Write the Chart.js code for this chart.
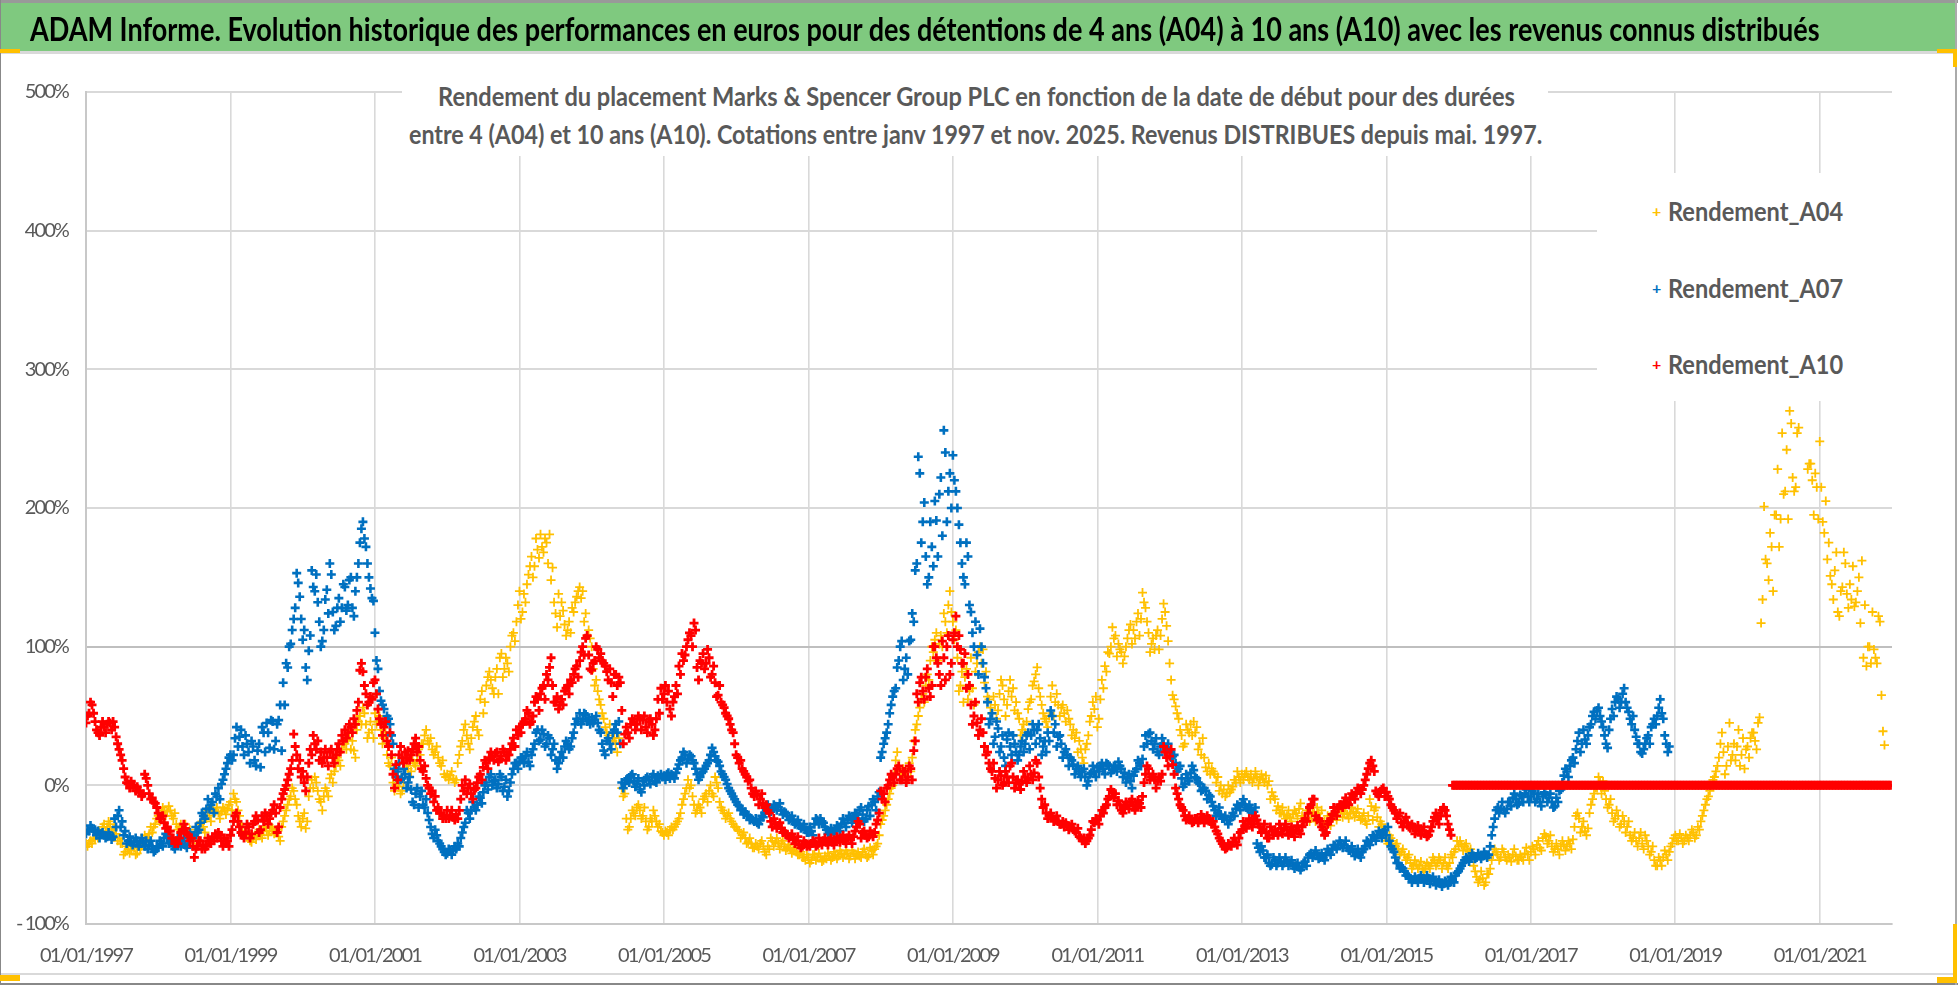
<!DOCTYPE html>
<html lang="fr">
<head>
<meta charset="utf-8">
<title>ADAM Informe</title>
<script src="https://cdn.jsdelivr.net/npm/chart.js@4/dist/chart.umd.min.js"></script>
<style>
html, body { margin: 0; padding: 0; background: #fff; overflow: hidden; }
#page { position: relative; width: 1958px; height: 985px; overflow: hidden; }
canvas { position: absolute; left: 0; top: 0; }
.box { position: absolute; }
.txt { position: absolute; white-space: nowrap; transform-origin: 0 50%; font-family: Lato, sans-serif; font-weight: 700; line-height: 1; }
.grey { color: #595959; }
</style>
</head>
<body>
<div id="page">
  <canvas id="graphique" width="1958" height="985"></canvas>

  <div class="box" style="left:0;top:0;width:1958px;height:3px;background:#999"></div>
  <div class="box" style="left:0;top:3px;width:1956px;height:48px;background:#7FC97F"></div>
  <div class="box" style="left:0;top:51px;width:1956px;height:3px;background:#d9d9d9"></div>
  <div class="box" style="left:0;top:973px;width:1956px;height:2px;background:#d9d9d9"></div>
  <div class="box" style="left:0;top:983px;width:1958px;height:2px;background:#888"></div>
  <div class="box" style="left:0;top:0;width:1px;height:985px;background:#888"></div>
  <div class="box" style="left:1955px;top:0;width:2px;height:985px;background:#aaa"></div>

  <div class="box" style="left:0;top:49px;width:20px;height:4px;background:#FFC000"></div>
  <div class="box" style="left:0;top:975px;width:20px;height:6px;background:#FFC000"></div>
  <div class="box" style="left:1937px;top:49px;width:19px;height:4px;background:#FFC000"></div>
  <div class="box" style="left:1953px;top:49px;width:4px;height:18px;background:#FFC000"></div>
  <div class="box" style="left:1937px;top:977px;width:20px;height:6px;background:#FFC000"></div>
  <div class="box" style="left:1953px;top:924px;width:4px;height:59px;background:#FFC000"></div>

  <div class="box" style="left:402px;top:80px;width:1146px;height:76px;background:#fff"></div>
  <div class="box" style="left:1597px;top:173px;width:296px;height:228px;background:#fff"></div>

  <span class="txt fit" data-w="1790" style="left:30px;top:13px;font-size:32px;color:#000">ADAM Informe. Evolution historique des performances en euros pour des détentions de 4 ans (A04) à 10 ans (A10) avec les revenus connus distribués</span>
  <span class="txt grey fit" data-w="1077" style="left:438px;top:83px;font-size:26px">Rendement du placement Marks &amp; Spencer Group PLC en fonction de la date de début pour des durées</span>
  <span class="txt grey fit" data-w="1133" style="left:409px;top:121px;font-size:26px">entre 4 (A04) et 10 ans (A10).  Cotations entre janv 1997 et nov. 2025. Revenus DISTRIBUES depuis mai. 1997.</span>

  <span class="txt" style="left:1652px;top:203px;font-size:16px;color:#FFC000">+</span>
  <span class="txt grey fit" data-w="175" style="left:1668px;top:198px;font-size:26px">Rendement_A04</span>
  <span class="txt" style="left:1652px;top:280px;font-size:16px;color:#0070C0">+</span>
  <span class="txt grey fit" data-w="175" style="left:1668px;top:275px;font-size:26px">Rendement_A07</span>
  <span class="txt" style="left:1652px;top:356px;font-size:16px;color:#FF0000">+</span>
  <span class="txt grey fit" data-w="175" style="left:1668px;top:351px;font-size:26px">Rendement_A10</span>
</div>

<script>
var anneeDebut = 1997;
var pasParAn = 24;
var ticksY = [-100, 0, 100, 200, 300, 400, 500];
var ticksX = [1997, 1999, 2001, 2003, 2005, 2007, 2009, 2011, 2013, 2015, 2017, 2019, 2021];

// une ligne par annee, un point tous les 1/24 d'an
var rendementA04 = [
  -42,-42,-42,-39,-38,-35,-28,-30,-28,-32,-35,-38,-42,-48,-46,-47,-45,-49,-46,-41,-39,-35,-34,-28,
  -22,-20,-18,-19,-18,-24,-28,-30,-32,-28,-34,-36,-38,-34,-28,-30,-24,-22,-18,-19,-20,-19,-18,-17,
  -12,-6,-12,-22,-30,-33,-36,-41,-36,-35,-36,-33,-33,-33,-31,-34,-37,-30,-22,-14,-8,-4,-14,-26,
  -24,-31,-8,4,6,-4,-12,-8,-4,5,2,14,18,26,30,33,26,25,40,50,56,44,38,40,
  52,46,40,34,22,14,2,0,-1,-4,8,12,10,16,18,22,30,40,30,26,24,20,14,8,
  8,7,5,4,22,32,44,30,34,46,40,62,52,72,82,70,78,66,95,84,88,100,110,118,
  140,125,132,152,165,158,170,181,168,175,181,157,124,138,132,116,112,110,125,136,143,140,124,112,
  100,72,68,58,48,38,44,32,30,34,-2,-6,-32,-24,-20,-16,-18,-22,-26,-30,-26,-22,-30,-33,
  -36,-34,-32,-32,-28,-24,-14,-6,4,0,-14,-18,-16,-10,-6,-4,-6,6,-2,-16,-20,-22,-24,-28,
  -30,-33,-36,-38,-41,-42,-45,-44,-42,-44,-50,-46,-40,-41,-42,-42,-44,-45,-46,-47,-48,-50,-52,-54,
  -52,-54,-50,-52,-52,-54,-53,-51,-52,-50,-51,-49,-50,-49,-51,-49,-50,-51,-48,-50,-51,-47,-46,-42,
  -28,-22,-14,-6,0,18,14,8,10,4,10,32,44,56,66,72,76,100,105,90,108,124,110,140,
  118,112,68,82,78,62,92,58,88,100,98,82,62,52,58,54,76,62,58,76,70,60,48,40,
  38,55,62,75,85,64,52,46,50,72,60,58,56,52,54,44,40,38,32,20,26,36,50,55,
  42,62,70,82,95,114,108,102,96,93,106,116,112,118,108,139,128,110,102,98,112,108,131,115,
  88,65,57,48,36,30,40,44,46,42,30,34,13,16,12,8,6,0,-3,-6,-5,-1,2,6,
  8,8,6,8,5,6,4,5,7,3,-5,-10,-15,-20,-21,-22,-23,-21,-20,-17,-22,-23,-21,-24,
  -20,-16,-24,-28,-30,-26,-24,-22,-19,-18,-20,-21,-20,-19,-20,-22,-24,-26,-22,-15,-18,-23,-26,-32,
  -40,-36,-40,-44,-46,-48,-50,-52,-56,-58,-57,-58,-60,-60,-58,-56,-54,-56,-54,-56,-58,-56,-52,-46,
  -44,-43,-44,-46,-46,-58,-66,-68,-67,-70,-64,-54,-46,-50,-52,-48,-54,-52,-50,-51,-54,-52,-49,-50,
  -48,-46,-43,-45,-38,-37,-40,-44,-46,-46,-44,-43,-44,-42,-39,-22,-24,-30,-33,-31,-14,-6,-2,2,
  3,-10,-14,-20,-24,-22,-28,-26,-30,-36,-38,-40,-38,-42,-36,-44,-48,-54,-58,-54,-52,-50,-48,-42,
  -36,-40,-38,-40,-38,-36,-34,-36,-32,-22,-14,-8,0,6,14,30,24,14,45,22,18,40,22,12,
  28,34,38,26,49,134,163,148,172,195,228,192,210,242,270,222,215,258,null,null,228,232,195,215,
  248,190,205,175,145,155,125,140,168,138,145,158,132,150,162,130,100,88,98,88,118,39,null,null
];

// l'autre bord du nuage de points, decale d'un demi pas
var rendementA04Bord = [
  -44,-40,-38,-36,-34,-30,-33,-26,-34,-30,-40,-42,-50,-44,-49,-43,-50,-44,-44,-36,-38,-30,-30,-24,
  -26,-16,-22,-15,-22,-20,-32,-28,-34,-38,-32,-42,-30,-32,-26,-34,-18,-26,-20,-16,-24,-16,-21,-14,
  -18,-10,-18,-28,-36,-28,-40,-38,-39,-32,-38,-30,-36,-30,-35,-32,-40,-26,-18,-10,-2,-10,-22,-30,
  -20,-26,-2,-2,2,-10,-18,-2,-8,8,10,20,14,30,26,38,32,20,46,44,52,34,46,34,
  44,50,30,38,16,20,-4,6,-6,2,14,6,18,14,26,30,36,32,34,22,28,16,18,6,
  4,10,2,16,28,40,36,26,42,50,36,68,60,78,76,66,84,92,78,92,82,108,104,130,
  120,138,145,158,150,178,164,172,178,160,148,132,114,122,126,108,118,128,132,140,135,118,108,106,
  84,76,62,52,42,36,26,34,24,30,-8,-24,-30,-18,-22,-14,-24,-16,-32,-24,-18,-26,-28,-34,
  -33,-36,-30,-30,-26,-20,-10,-2,-2,-8,-20,-14,-20,-8,-12,0,-8,2,-12,-18,-24,-20,-26,-30,
  -32,-38,-34,-42,-38,-45,-42,-46,-40,-48,-44,-38,-44,-38,-46,-40,-47,-43,-49,-45,-50,-48,-52,-50,
  -56,-50,-54,-49,-55,-51,-49,-54,-48,-53,-47,-52,-47,-53,-47,-53,-48,-52,-46,-52,-45,-50,-44,-36,
  -25,-18,-10,-2,8,24,10,12,6,16,20,40,50,62,60,80,90,96,110,102,100,118,130,125,
  105,92,72,60,84,68,70,82,96,88,74,64,56,64,48,66,72,50,68,64,54,52,36,44,
  46,60,72,80,70,58,48,42,64,50,66,50,58,46,48,36,34,24,26,16,30,46,60,64,
  48,76,86,96,100,106,93,98,88,100,112,102,106,124,120,132,118,96,106,108,98,120,125,104,
  76,62,52,40,28,44,38,36,38,26,22,20,10,8,10,2,-4,-6,-8,0,-3,4,10,2,
  4,10,4,2,10,0,8,2,0,-10,-8,-18,-20,-16,-24,-18,-26,-18,-24,-13,-26,-18,-26,-19,
  -26,-20,-18,-26,-22,-29,-20,-25,-16,-23,-16,-24,-16,-23,-17,-25,-20,-28,-10,-25,-16,-30,-28,-36,
  -42,-38,-46,-42,-50,-46,-54,-50,-60,-54,-60,-55,-62,-56,-60,-52,-58,-52,-60,-52,-60,-50,-48,-40,
  -40,-47,-42,-48,-50,-62,-70,-62,-72,-64,-60,-50,-48,-54,-46,-52,-50,-55,-46,-54,-50,-54,-45,-54,
  -44,-50,-40,-47,-35,-42,-36,-48,-42,-50,-40,-47,-40,-46,-30,-20,-34,-26,-36,-20,-10,-2,6,-6,
  -4,-16,-10,-26,-18,-30,-22,-34,-26,-40,-34,-44,-34,-46,-40,-50,-44,-58,-52,-58,-47,-54,-44,-38,
  -40,-35,-42,-36,-40,-32,-38,-30,-26,-18,-10,-4,4,10,20,38,8,28,18,30,28,14,34,26,
  20,38,32,45,117,201,160,182,140,195,172,254,212,192,261,212,254,null,null,null,232,220,225,192,
  215,182,163,151,134,168,122,143,160,128,134,129,140,117,92,86,100,125,92,122,65,29,null,null
];

var rendementA07 = [
  -35,-33,-31,-32,-33,-35,-36,-37,-36,-37,-30,-18,-26,-33,-40,-41,-41,-40,-42,-41,-40,-43,-44,-47,
  -45,-42,-38,-37,-41,-44,-42,-40,-42,-43,-40,-36,-36,-34,-27,-22,-17,-17,-12,-6,-2,1,8,16,
  22,22,42,35,28,36,24,32,18,25,13,38,45,27,46,32,47,25,58,85,102,120,153,136,
  105,85,97,155,140,132,100,112,141,160,125,115,135,128,143,130,150,122,150,175,190,172,150,135,
  110,84,61,55,50,44,30,6,16,5,8,2,-3,-14,-2,-8,-14,-10,-25,-35,-32,-40,-44,-48,
  -49,-47,-47,-46,-44,-34,-27,-20,-18,-16,-14,-9,-5,2,6,0,4,1,6,-1,-8,2,12,16,
  17,20,21,17,22,30,40,33,37,30,34,26,18,16,24,28,30,28,38,48,52,48,51,47,
  49,47,45,38,25,32,30,38,44,46,2,1,5,7,3,1,-3,3,5,4,6,3,7,8,
  7,8,5,7,9,15,20,22,19,21,16,8,6,10,14,18,27,21,17,10,6,1,-4,-8,
  -12,-15,-17,-19,-22,-24,-26,-27,-25,-23,-18,-16,-17,-15,-16,-18,-19,-22,-24,-26,-27,-29,-30,-32,
  -34,-33,-28,-25,-24,-27,-32,-34,-33,-32,-30,-28,-27,-25,-23,-24,-21,-18,-21,-24,-15,-14,-12,-8,
  20,30,38,52,64,70,90,104,84,80,105,118,160,225,190,165,150,172,205,165,222,256,190,225,
  238,212,188,160,145,165,125,100,94,113,88,70,44,52,35,41,28,20,33,28,36,24,22,32,
  30,38,36,40,40,34,28,24,32,50,44,35,30,24,22,20,15,12,10,10,6,3,9,10,
  13,14,12,16,14,11,13,17,12,9,5,3,7,12,16,19,36,37,32,30,24,28,30,26,
  25,21,16,12,5,1,5,9,11,5,1,-3,-4,-7,-12,-18,-20,-21,-24,-25,-25,-20,-17,-15,
  -13,-14,-17,-18,-19,-42,-48,-47,-52,-56,-57,-54,-56,-55,-56,-55,-56,-58,-58,-59,-59,-55,-52,-49,
  -50,-50,-52,-52,-50,-48,-46,-44,-43,-42,-43,-45,-47,-48,-49,-50,-48,-44,-41,-40,-37,-36,-35,-34,
  -36,-40,-46,-52,-56,-59,-62,-65,-67,-68,-68,-67,-67,-68,-67,-68,-69,-70,-71,-71,-70,-70,-68,-65,
  -62,-58,-54,-53,-52,-51,-52,-51,-51,-50,-50,-36,-24,-16,-17,-18,-17,-12,-9,-10,-13,-8,-6,-8,
  -8,-6,-10,-12,-8,-7,-9,-12,-15,-12,-3,7,10,14,20,26,38,30,33,36,44,53,54,50,
  42,30,40,55,60,62,60,70,56,48,50,35,30,23,30,36,42,48,50,62,48,30,28
];

var rendementA07Bord = [
  -32,-29,-33,-36,-38,-34,-38,-34,-39,-24,-22,-30,-36,-42,-37,-43,-38,-44,-38,-44,-46,-40,-48,-44,
  -40,-44,-35,-42,-39,-46,-38,-44,-38,-45,-34,-38,-30,-32,-20,-24,-10,-14,-20,-8,-10,4,12,20,
  18,34,28,40,22,30,16,28,14,30,42,24,38,47,26,44,58,74,88,100,112,128,146,120,
  112,76,108,143,152,118,104,134,124,152,112,128,118,145,126,148,128,140,160,185,178,160,142,133,
  90,68,58,46,48,36,12,10,4,12,-2,6,-12,-6,-16,-4,-16,-20,-30,-38,-36,-42,-46,-50,
  -46,-50,-44,-42,-38,-30,-18,-24,-12,-18,-8,-13,0,-3,8,3,-2,8,-4,4,-4,8,16,12,
  20,16,24,14,26,38,32,40,28,36,22,30,12,20,20,32,26,34,44,46,44,52,46,44,
  45,50,40,30,22,34,26,40,38,30,-2,4,2,8,-1,5,-5,0,6,1,8,2,5,6,
  4,9,8,5,12,18,24,16,22,18,12,4,9,12,16,22,24,18,14,8,4,-2,-6,-10,
  -14,-18,-21,-21,-25,-25,-24,-28,-22,-20,-14,-19,-14,-18,-13,-21,-20,-25,-22,-28,-25,-31,-28,-34,
  -30,-36,-24,-28,-26,-30,-35,-31,-35,-29,-33,-24,-30,-22,-27,-20,-24,-16,-26,-18,-22,-10,-18,-5,
  24,34,44,58,68,85,100,76,92,104,124,155,237,175,204,145,190,158,191,210,180,240,212,200,
  220,200,175,150,175,130,110,118,80,100,78,60,48,30,46,24,36,14,38,22,30,18,28,24,
  36,26,44,30,44,22,32,38,54,38,28,36,20,26,14,18,8,14,6,12,0,8,14,6,
  10,16,8,15,9,14,10,14,6,2,8,-2,10,18,14,28,30,38,26,34,22,34,24,30,
  20,22,10,14,-1,8,3,14,6,2,-4,-2,-10,-8,-15,-22,-16,-24,-22,-28,-23,-22,-14,-18,
  -10,-16,-14,-20,-16,-45,-44,-52,-50,-58,-52,-58,-52,-58,-52,-58,-54,-60,-56,-61,-56,-58,-50,-52,
  -47,-53,-49,-54,-46,-50,-43,-46,-40,-45,-40,-47,-44,-51,-46,-52,-46,-40,-43,-36,-40,-33,-38,-32,
  -30,-44,-48,-56,-60,-60,-65,-66,-70,-66,-70,-65,-70,-65,-71,-66,-72,-68,-73,-69,-72,-66,-70,-63,
  -60,-56,-52,-55,-49,-53,-49,-53,-48,-52,-44,-30,-18,-20,-12,-20,-12,-15,-6,-14,-7,-12,-3,-12,
  -4,-12,-6,-15,-5,-12,-6,-16,-9,-4,2,12,6,18,16,32,24,40,30,42,50,48,56,46,
  36,27,48,50,64,56,66,60,53,44,40,30,24,26,34,30,44,44,56,52,36,24
];

var rendementA10 = [
  45,52,58,46,38,42,42,44,45,46,35,26,18,6,1,3,0,-1,-4,-6,5,-6,-9,-13,
  -20,-24,-27,-30,-33,-38,-40,-38,-32,-31,-36,-38,-52,-44,-40,-43,-44,-40,-37,-35,-34,-40,-38,-40,
  -36,-26,-20,-30,-36,-34,-30,-35,-26,-25,-32,-26,-22,-24,-18,-20,-30,-10,-3,4,12,37,22,18,
  10,-4,16,22,30,32,24,20,20,24,20,22,30,36,40,38,42,48,54,83,82,66,60,62,
  76,55,44,42,32,38,8,15,22,20,24,25,22,30,24,18,10,5,-2,-4,-8,-16,-20,-22,
  -18,-22,-23,-21,-18,0,4,-2,-6,-3,2,8,13,16,20,21,23,17,21,24,22,26,34,40,
  42,44,48,52,46,60,62,66,72,80,85,72,60,55,62,68,72,76,80,86,90,100,106,94,
  83,90,98,95,88,82,84,64,80,78,54,37,38,44,46,44,48,47,42,46,44,40,62,70,
  66,60,55,60,72,86,95,94,105,108,117,85,90,95,88,92,80,74,65,60,56,50,44,38,
  22,16,12,8,3,-2,-8,-7,-10,-13,-14,-20,-30,-28,-29,-31,-33,-36,-37,-39,-40,-43,-44,-42,
  -43,-42,-41,-43,-41,-40,-41,-40,-41,-40,-39,-38,-40,-38,-39,-37,-30,-28,-34,-36,-37,-35,-34,-25,
  -4,-6,-2,4,6,8,14,4,10,6,12,25,66,74,68,78,70,72,100,88,72,92,100,80,
  105,122,108,88,95,80,58,50,45,40,38,22,16,10,5,4,7,2,6,14,6,2,1,3,
  6,5,8,9,16,-2,-16,-20,-22,-23,-25,-26,-28,-30,-29,-30,-31,-34,-37,-40,-42,-38,-32,-27,
  -25,-22,-20,-14,-8,-5,-6,-11,-18,-16,-14,-12,-15,-14,-13,-8,8,12,6,4,3,3,28,20,
  21,15,-2,-10,-16,-22,-24,-25,-26,-24,-25,-23,-25,-24,-28,-30,-35,-40,-44,-45,-43,-41,-41,-38,
  -32,-29,-28,-26,-26,-25,-30,-32,-34,-38,-33,-32,-36,-31,-31,-32,-33,-34,-32,-33,-30,-24,-20,-14,
  -10,-25,-26,-32,-34,-26,-21,-19,-17,-14,-12,-13,-10,-8,-5,-3,-3,4,12,18,10,-6,-5,-2,
  -5,-10,-16,-20,-22,-27,-26,-27,-31,-30,-33,-32,-33,-35,-36,-30,-23,-24,-22,-16,-22,-32,0,0,
  0,0,0,0,0,0,0,0,0,0,0,0,0,0,0,0,0,0,0,0,0,0,0,0,
  0,0,0,0,0,0,0,0,0,0,0,0,0,0,0,0,0,0,0,0,0,0,0,0,
  0,0,0,0,0,0,0,0,0,0,0,0,0,0,0,0,0,0,0,0,0,0,0,0,
  0,0,0,0,0,0,0,0,0,0,0,0,0,0,0,0,0,0,0,0,0,0,0,0,
  0,0,0,0,0,0,0,0,0,0,0,0,0,0,0,0,0,0,0,0,0,0,0,0,
  0,0,0,0,0,0,0,0,0,0,0,0,0,0,0,0,0,0,0,0,0,0,0,0
];

var rendementA10Bord = [
  50,60,52,40,36,46,38,46,40,42,30,22,12,2,-2,0,-4,-5,-8,8,0,-10,-12,-16,
  -24,-22,-31,-33,-38,-42,-42,-34,-28,-35,-40,-44,-46,-40,-46,-46,-38,-42,-40,-38,-36,-44,-42,-44,
  -32,-22,-26,-34,-38,-28,-38,-28,-22,-34,-22,-20,-28,-20,-14,-34,-16,-6,0,8,18,28,12,6,
  2,6,26,36,26,18,16,26,14,26,16,26,24,32,34,44,38,44,60,88,72,58,64,74,
  66,48,36,46,28,22,-2,4,28,16,20,18,26,34,28,12,14,0,-6,-12,-18,-20,-24,-24,
  -24,-18,-25,-24,-10,-4,-6,1,-10,-2,6,4,18,12,24,18,24,19,26,18,22,30,28,36,
  38,46,54,44,50,64,54,70,62,76,92,60,64,58,58,70,66,74,84,78,96,94,108,84,
  88,100,92,90,86,76,74,80,72,74,30,42,34,48,40,50,40,50,38,48,36,48,52,62,
  72,68,50,64,66,80,90,100,110,100,112,76,88,84,98,78,86,64,72,58,52,48,40,30,
  20,18,10,6,4,-6,-4,-14,-6,-16,-18,-26,-24,-31,-27,-34,-35,-38,-35,-42,-37,-45,-40,-44,
  -44,-40,-44,-38,-43,-38,-43,-38,-43,-37,-41,-36,-42,-36,-42,-33,-26,-38,-33,-38,-33,-37,-28,-20,
  -10,-12,0,8,2,12,4,10,2,14,4,32,60,78,62,84,64,100,92,80,104,76,108,88,
  110,100,98,88,70,72,44,60,36,48,28,24,12,16,-2,10,0,10,2,16,-2,4,-3,10,
  2,14,4,18,6,-10,-14,-24,-20,-26,-22,-28,-26,-27,-32,-28,-33,-31,-38,-38,-40,-36,-26,-24,
  -28,-18,-16,-10,-3,-9,-14,-14,-20,-12,-17,-10,-18,-11,-16,2,14,4,8,-2,6,8,24,14,
  26,8,-6,-14,-18,-25,-22,-27,-24,-27,-21,-27,-22,-26,-26,-33,-38,-42,-46,-42,-44,-38,-43,-34,
  -26,-31,-24,-30,-22,-28,-34,-28,-38,-30,-36,-34,-28,-35,-28,-36,-30,-37,-29,-35,-26,-26,-16,-10,
  -22,-24,-30,-36,-28,-24,-16,-22,-14,-16,-9,-14,-6,-10,-2,-6,0,8,16,14,-4,-8,-3,-8,
  -8,-14,-18,-24,-20,-30,-23,-30,-28,-35,-29,-36,-30,-37,-33,-26,-20,-28,-18,-18,-28,-36,0,0,
  0,0,0,0,0,0,0,0,0,0,0,0,0,0,0,0,0,0,0,0,0,0,0,0,
  0,0,0,0,0,0,0,0,0,0,0,0,0,0,0,0,0,0,0,0,0,0,0,0,
  0,0,0,0,0,0,0,0,0,0,0,0,0,0,0,0,0,0,0,0,0,0,0,0,
  0,0,0,0,0,0,0,0,0,0,0,0,0,0,0,0,0,0,0,0,0,0,0,0,
  0,0,0,0,0,0,0,0,0,0,0,0,0,0,0,0,0,0,0,0,0,0,0,0,
  0,0,0,0,0,0,0,0,0,0,0,0,0,0,0,0,0,0,0,0,0,0,0,0
];

var points = function(valeurs, bord) {
  var a = valeurs.map(function(v, i) {
    return { x: anneeDebut + i / pasParAn, y: v };
  });
  var b = bord.map(function(v, i) {
    return { x: anneeDebut + (i + 0.5) / pasParAn, y: v };
  });
  return a.concat(b);
};

var serie = function(nom, valeurs, bord, couleur, rang, epaisseur) {
  return {
    label: nom,
    data: points(valeurs, bord),
    showLine: false,
    order: rang,
    pointStyle: 'cross',
    pointRadius: 4.5,
    pointBorderWidth: epaisseur,
    pointBorderColor: couleur,
    pointBackgroundColor: couleur
  };
};

var police = { family: "Lato, sans-serif", size: 20 };

// les libelles de l'original sont plus etroits que Lato
var resserre = {
  id: 'resserre',
  beforeDraw: function(chart) { chart.ctx.letterSpacing = "-1.9px"; },
  afterDraw: function(chart) { chart.ctx.letterSpacing = "0px"; }
};

new Chart(document.getElementById("graphique"), {
  type: 'scatter',
  plugins: [resserre],
  data: {
    datasets: [
      serie("Rendement_A04", rendementA04, rendementA04Bord, "#FFC000", 3, 1.8),
      serie("Rendement_A07", rendementA07, rendementA07Bord, "#0070C0", 2, 2.6),
      serie("Rendement_A10", rendementA10, rendementA10Bord, "#FF0000", 1, 2.8)
    ]
  },
  options: {
    responsive: false,
    devicePixelRatio: 1,
    animation: false,
    layout: { padding: { top: 92, right: 66, left: 0, bottom: 0 } },
    plugins: { legend: { display: false }, title: { display: false }, tooltip: { enabled: false } },
    scales: {
      x: {
        type: 'linear',
        min: 1997,
        max: 2022,
        afterFit: function(s) { s.height = 61; },
        afterBuildTicks: function(s) {
          s.ticks = ticksX.map(function(v) { return { value: v }; });
        },
        grid: { color: "#d9d9d9", lineWidth: 1.6, drawTicks: false },
        border: { color: "#c8c8c8", width: 2 },
        ticks: {
          color: "#595959",
          font: police,
          padding: 20,
          maxRotation: 0,
          autoSkip: false,
          callback: function(v) { return "01/01/" + v; }
        }
      },
      y: {
        min: -100,
        max: 500,
        afterFit: function(s) { s.width = 86; },
        afterBuildTicks: function(s) {
          s.ticks = ticksY.map(function(v) { return { value: v }; });
        },
        grid: {
          color: function(c) { return c.tick && c.tick.value == 100 ? "#bfbfbf" : "#d9d9d9"; },
          lineWidth: 2,
          drawTicks: false
        },
        border: { color: "#c8c8c8", width: 2 },
        ticks: {
          color: "#595959",
          font: police,
          padding: 18,
          callback: function(v) { return v < 0 ? "- " + Math.abs(v) + "%" : v + "%"; }
        }
      }
    }
  }
});

document.querySelectorAll(".fit").forEach(function(el) {
  var w = parseFloat(el.getAttribute("data-w"));
  el.style.transform = "scaleX(" + (w / el.offsetWidth) + ")";
});
</script>
</body>
</html>
